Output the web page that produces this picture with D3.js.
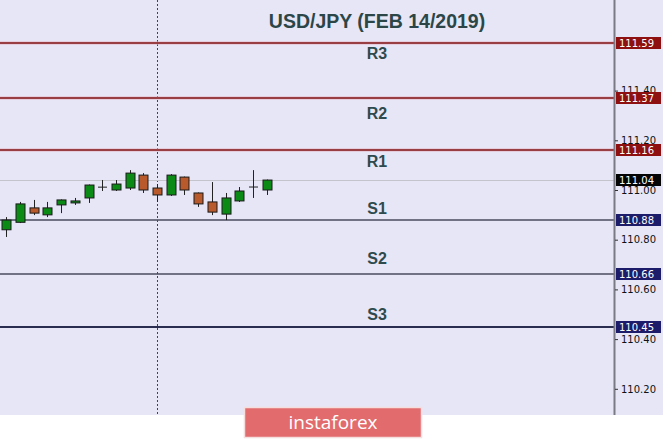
<!DOCTYPE html>
<html><head><meta charset="utf-8">
<script src="https://cdn.jsdelivr.net/npm/d3@7"></script>
<style>html,body{margin:0;padding:0;background:#fff;}svg{display:block;}</style>
</head><body>
<script>
const title = "USD/JPY (FEB 14/2019)";
const opens  = [110.84,110.87,110.928,110.90,110.94,110.948,110.968,111.010,111.000,111.008,111.060,111.008,110.980,111.052,110.988,110.952,110.903,110.956,111.011,111.000];
const highs  = [110.891,110.952,110.960,110.952,110.962,110.968,111.022,111.040,111.040,111.080,111.068,111.024,111.064,111.054,110.990,111.032,110.988,111.012,111.080,111.042];
const lows   = [110.811,110.867,110.899,110.891,110.907,110.940,110.948,110.996,110.996,111.000,110.988,110.952,110.976,110.980,110.932,110.899,110.879,110.952,110.968,110.980];
const closes = [110.879,110.944,110.907,110.928,110.960,110.956,111.020,111.013,111.024,111.068,111.000,110.980,111.060,111.000,110.944,110.911,110.968,110.996,111.013,111.040];
const levelNames  = ["R3","R2","R1","S1","S2","S3"];
const levelValues = [111.59,111.37,111.16,110.88,110.66,110.45];
const tickValues = [110.20,110.40,110.60,110.80,111.00,111.20,111.40];
const lastPrice = 111.04;

const W = 665, H = 439, plotW = 614, plotB = 415, bgRight = 663;
const labelOffset = {R3:16, R2:21, R1:17, S1:-6, S2:-10, S3:-7};
const svg = d3.select("body").append("svg").attr("width", W).attr("height", H);
svg.append("rect").attr("width", W).attr("height", H).attr("fill", "#fff");
svg.append("rect").attr("x",0).attr("y",0).attr("width", bgRight).attr("height", plotB).attr("fill", "#e6e6f6");

const y = d3.scaleLinear().domain([111.0, 111.4]).range([190, 90.6]);
const x = d3.scaleLinear().domain([0, 19]).range([6.3, 266.6]);

// vertical dotted line
svg.append("line").attr("x1",157.5).attr("x2",157.5).attr("y1",0).attr("y2",plotB)
  .attr("stroke","#444").attr("stroke-width",1).attr("stroke-dasharray","2,2");

// last price line
svg.append("line").attr("x1",0).attr("x2",plotW).attr("y1",Math.round(y(lastPrice))+0.5).attr("y2",Math.round(y(lastPrice))+0.5)
  .attr("stroke","#c4c4cc").attr("stroke-width",1);

// level lines
levelValues.forEach((v,i)=>{
  const yy = Math.round(y(v));
  const name = levelNames[i];
  const isR = name[0]==="R";
  if (isR) {
    svg.append("line").attr("x1",0).attr("x2",plotW).attr("y1",yy).attr("y2",yy)
      .attr("stroke","#e4b4c4").attr("stroke-width",3);
    svg.append("line").attr("x1",0).attr("x2",plotW).attr("y1",yy).attr("y2",yy)
      .attr("stroke","#801818").attr("stroke-width",1.3);
  } else {
    const col = name==="S3" ? "#2a2d50" : "#4a4c5e";
    svg.append("line").attr("x1",0).attr("x2",plotW).attr("y1",yy).attr("y2",yy)
      .attr("stroke",col).attr("stroke-width", name==="S3" ? 2 : 1.4);
  }
  svg.append("text").attr("x",377).attr("y",yy+labelOffset[name]).attr("text-anchor","middle")
    .attr("font-family","Liberation Sans, Arial, sans-serif").attr("font-weight","bold")
    .attr("font-size",16).attr("fill","#2f4a4c").text(name);
});

// candles
const data = opens.map((o,i)=>({o, h:highs[i], l:lows[i], c:closes[i], i}));
const g = svg.append("g");
data.forEach(d=>{
  const cx = Math.round(x(d.i))+0.5;
  g.append("line").attr("x1",cx).attr("x2",cx).attr("y1",y(d.h)).attr("y2",y(d.l))
    .attr("stroke","#222").attr("stroke-width",1);
  const top = y(Math.max(d.o,d.c)), bot = y(Math.min(d.o,d.c));
  if (Math.abs(d.o-d.c) < 0.005) {
    g.append("line").attr("x1",cx-4.5).attr("x2",cx+4.5).attr("y1",(top+bot)/2).attr("y2",(top+bot)/2)
      .attr("stroke","#222").attr("stroke-width",1);
  } else {
    g.append("rect").attr("x",cx-4.5).attr("y",top).attr("width",9).attr("height",Math.max(1,bot-top))
      .attr("fill", d.c>d.o ? "#0c8a16" : "#b85a2c").attr("stroke","#1a1a1a").attr("stroke-width",1);
  }
});

// right axis
svg.append("line").attr("x1",plotW+0.5).attr("x2",plotW+0.5).attr("y1",0).attr("y2",plotB)
  .attr("stroke","#7a7a84").attr("stroke-width",2);
const axis = d3.axisRight(y).tickValues(tickValues).tickFormat(d3.format(".2f")).tickSize(3).tickPadding(3);
const ax = svg.append("g").attr("transform",`translate(${plotW+1},0)`).call(axis);
ax.select(".domain").remove();
ax.selectAll("text").attr("font-family","DejaVu Sans, sans-serif").attr("font-size",10).attr("fill","#111");
ax.selectAll("line").attr("stroke","#333");

// price boxes
function box(v, fill){
  const yy = Math.round(y(v));
  svg.append("rect").attr("x",616).attr("y",yy-6).attr("width",45).attr("height",12).attr("fill",fill);
  svg.append("text").attr("x",619).attr("y",yy+4).attr("font-family","DejaVu Sans, sans-serif")
    .attr("font-size",10).attr("fill","#fff").text(d3.format(".2f")(v));
}
levelValues.forEach((v,i)=> box(v, levelNames[i][0]==="R" ? "#8e1010" : "#1c1c6a"));
box(lastPrice, "#050505");

// title
svg.append("text").attr("x",377).attr("y",28).attr("text-anchor","middle")
  .attr("font-family","Liberation Sans, Arial, sans-serif").attr("font-weight","bold")
  .attr("font-size",19.5).attr("fill","#2c4648").text(title);

// logo
svg.append("rect").attr("x",244.5).attr("y",407.5).attr("width",177).attr("height",30)
  .attr("fill","#e26b6e").attr("stroke","#f4dede").attr("stroke-width",1.5);
svg.append("text").attr("x",333).attr("y",429).attr("text-anchor","middle")
  .attr("font-family","Open Sans, sans-serif").attr("font-size",19).attr("fill","#fff").text("instaforex");
</script>
</body></html>
